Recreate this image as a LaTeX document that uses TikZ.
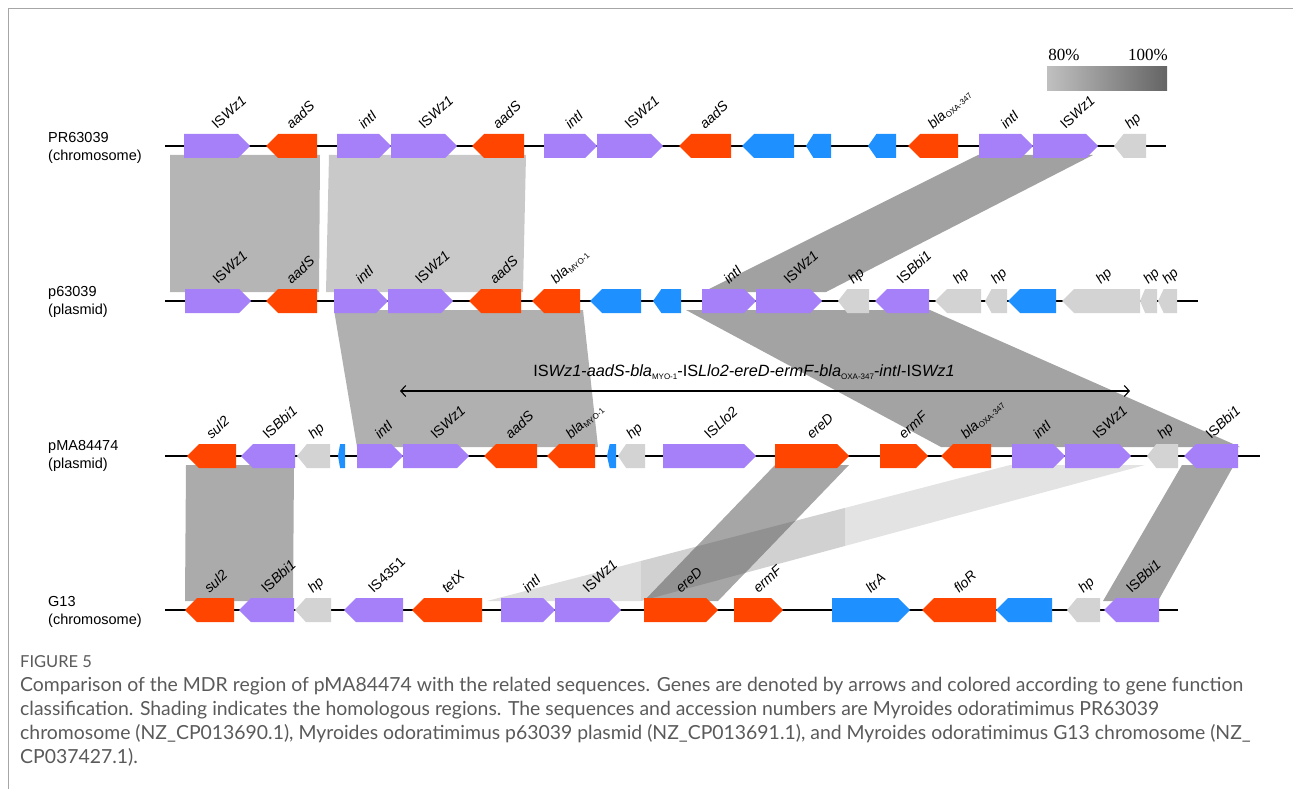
\documentclass[tikz,border=0pt]{standalone}
\usepackage{fontspec}
\setmainfont{Liberation Sans}
\newfontfamily\captionfont{Lato}
\newfontfamily\legendfont{Liberation Serif}
\usepackage{tikz}
\usetikzlibrary{arrows.meta}

\definecolor{ispurple}{HTML}{A680F8}
\definecolor{resred}{HTML}{FF4500}
\definecolor{othblue}{HTML}{1E90FF}
\definecolor{hpgray}{HTML}{D3D3D3}
\definecolor{captiongray}{HTML}{5A5A5A}
\definecolor{legendlow}{HTML}{C0C0C0}
\definecolor{legendhigh}{HTML}{646464}

\newcommand{\subt}[1]{\raisebox{-2.5pt}{\fontsize{8}{9}\selectfont #1}}
% gene arrow: row y, tail x, tip x, colour
\newcommand{\genearrow}[4]{%
  \pgfmathsetmacro{\hd}{min(12,0.3*abs(#3-#2))*sign(#3-#2)}%
  \fill[#4] ({#2},{#1-12}) -- ({#3-\hd},{#1-12}) -- ({#3},{#1}) -- ({#3-\hd},{#1+12}) -- ({#2},{#1+12}) -- cycle;}

\begin{document}
\begin{tikzpicture}[x=1pt,y=-1pt,
	backbone/.style={line width=1.6pt,black},
	genelabel/.style={anchor=base west,rotate=43,inner sep=0pt,font=\fontsize{14}{16}\selectfont},
	seqname/.style={anchor=west,align=left,inner sep=0pt,font=\fontsize{14.5}{18}\selectfont}]
	\useasboundingbox (0,0) rectangle (1293,789);
	\draw[black!35,line width=0.8pt] (8,789) -- (8,8) -- (1293,8);

	% homology shading
	\begin{scope}
	\fill[black!29] (170,155) -- (320,155) -- (319,292) -- (170,292) -- cycle;
	\fill[black!21] (329,155) -- (526,155) -- (523,292) -- (326,292) -- cycle;
	\fill[black!37] (978,155) -- (1093,155) -- (826,292) -- (703,292) -- cycle;
	\fill[black!31] (334,310) -- (583,310) -- (598,447) -- (357,447) -- cycle;
	\fill[black!36] (686,310) -- (930,310) -- (1240,447) -- (941,447) -- cycle;
	\fill[black!33] (186,465) -- (294,465) -- (293,601) -- (185,601) -- cycle;
	\begin{scope}
	\clip (400,440) rectangle (641,620);
	\fill[black!13] (1010,465) -- (1145,465) -- (641,601) -- (487,601) -- cycle;
	\end{scope}
	\begin{scope}
	\clip (641,440) rectangle (845,620);
	\fill[black!18] (1010,465) -- (1145,465) -- (641,601) -- (487,601) -- cycle;
	\end{scope}
	\begin{scope}
	\clip (845,440) rectangle (1200,620);
	\fill[black!11] (1010,465) -- (1145,465) -- (641,601) -- (487,601) -- cycle;
	\end{scope}
	\fill[black!35] (775,465) -- (849,465) -- (718,601) -- (644,601) -- cycle;
	\begin{scope}
	\clip (1010,465) -- (1145,465) -- (641,601) -- (487,601) -- cycle;
	\fill[black!43] (775,465) -- (849,465) -- (718,601) -- (644,601) -- cycle;
	\end{scope}
	\fill[black!36] (1182,465) -- (1234,465) -- (1158,601) -- (1103,601) -- cycle;
	\end{scope}

	% backbones
	\coordinate (r1a) at (165,146);
	\coordinate (r1b) at (1166,146);
	\coordinate (r2a) at (165,301);
	\coordinate (r2b) at (1198,301);
	\coordinate (r3a) at (165,456);
	\coordinate (r3b) at (1260,456);
	\coordinate (r4a) at (165,610);
	\coordinate (r4b) at (1178,610);
	\draw[backbone] (r1a) -- (r1b);
	\draw[backbone] (r2a) -- (r2b);
	\draw[backbone] (r3a) -- (r3b);
	\draw[backbone] (r4a) -- (r4b);

	\node[seqname] (seqPR) at (48,148) {PR63039\\(chromosome)};
	\node[seqname] (seqp6) at (48,302) {p63039\\(plasmid)};
	\node[seqname] (seqpMA) at (48,456) {pMA84474\\(plasmid)};
	\node[seqname] (seqG13) at (48,612) {G13\\(chromosome)};

	% PR63039
	\foreach \ta/\tb/\col/\lab [count=\i] in {
		184/250/ispurple/IS\textit{Wz1}, 317/266/resred/\textit{aadS},
		337/391/ispurple/\textit{intI}, 391/457/ispurple/IS\textit{Wz1},
		524/472/resred/\textit{aadS}, 544/597/ispurple/\textit{intI},
		597/663/ispurple/IS\textit{Wz1}, 731/679/resred/\textit{aadS},
		794/742/othblue/{}, 831/806/othblue/{}, 896/868/othblue/{},
		958/908/resred/\textit{bla}\subt{OXA-347},
		979/1033/ispurple/\textit{intI}, 1033/1098/ispurple/IS\textit{Wz1},
		1146/1114/hpgray/\textit{hp}}
	{\genearrow{146}{\ta}{\tb}{\col}
	\if\relax\detokenize\expandafter{\lab}\relax\else
	\node[genelabel] (r1g\i) at ({(\ta+\tb)/2},130) {\lab};\fi}

	% p63039
	\foreach \ta/\tb/\col/\lab [count=\i] in {
		185/251/ispurple/IS\textit{Wz1}, 317/266/resred/\textit{aadS},
		334/388/ispurple/\textit{intI}, 388/453/ispurple/IS\textit{Wz1},
		521/469/resred/\textit{aadS}, 580/532/resred/\textit{bla}\subt{MYO-1},
		641/590/othblue/{}, 681/653/othblue/{},
		702/756/ispurple/\textit{intI}, 756/822/ispurple/IS\textit{Wz1},
		869/838/hpgray/\textit{hp}, 929/875/ispurple/IS\textit{Bbi1},
		981/935/hpgray/\textit{hp}, 1007/985/hpgray/\textit{hp},
		1056/1008/othblue/{}, 1140/1062/hpgray/\textit{hp},
		1157/1140/hpgray/\textit{hp}, 1177/1158/hpgray/\textit{hp}}
	{\genearrow{301}{\ta}{\tb}{\col}
	\if\relax\detokenize\expandafter{\lab}\relax\else
	\node[genelabel] (r2g\i) at ({(\ta+\tb)/2},285) {\lab};\fi}

	% pMA84474
	\foreach \ta/\tb/\col/\lab [count=\i] in {
		236/187/resred/\textit{sul2}, 295/241/ispurple/IS\textit{Bbi1},
		330/297/hpgray/\textit{hp}, 345/338/othblue/{},
		357/403/ispurple/\textit{intI}, 403/469/ispurple/IS\textit{Wz1},
		537/484/resred/\textit{aadS}, 595/547/resred/\textit{bla}\subt{MYO-1},
		616/607/othblue/{}, 645/618/hpgray/\textit{hp},
		663/756/ispurple/IS\textit{Llo2}, 775/849/resred/\textit{ereD},
		880/928/resred/\textit{ermF}, 991/941/resred/\textit{bla}\subt{OXA-347},
		1012/1065/ispurple/\textit{intI}, 1065/1131/ispurple/IS\textit{Wz1},
		1178/1147/hpgray/\textit{hp}, 1238/1184/ispurple/IS\textit{Bbi1}}
	{\genearrow{456}{\ta}{\tb}{\col}
	\if\relax\detokenize\expandafter{\lab}\relax\else
	\node[genelabel] (r3g\i) at ({(\ta+\tb)/2},440) {\lab};\fi}

	% G13
	\foreach \ta/\tb/\col/\lab [count=\i] in {
		234/185/resred/\textit{sul2}, 294/239/ispurple/IS\textit{Bbi1},
		331/295/hpgray/\textit{hp}, 403/344/ispurple/IS4351,
		482/412/resred/\textit{tetX}, 501/555/ispurple/\textit{intI},
		555/621/ispurple/IS\textit{Wz1}, 644/718/resred/\textit{ereD},
		734/783/resred/\textit{ermF}, 832/910/othblue/\textit{ltrA},
		996/922/resred/\textit{floR}, 1052/996/othblue/{},
		1100/1067/hpgray/\textit{hp}, 1159/1104/ispurple/IS\textit{Bbi1}}
	{\genearrow{610}{\ta}{\tb}{\col}
	\if\relax\detokenize\expandafter{\lab}\relax\else
	\node[genelabel] (r4g\i) at ({(\ta+\tb)/2},594) {\lab};\fi}

	% MDR region
	\node[font=\fontsize{16.3}{19}\selectfont] (mdr) at (744,372)
		{IS\textit{Wz1}-\textit{aadS}-\textit{bla}\subt{MYO-1}-IS\textit{Llo2}-\textit{ereD}-\textit{ermF}-\textit{bla}\subt{OXA-347}-\textit{intI}-IS\textit{Wz1}};
	\coordinate (mdrl) at (400,391);
	\coordinate (mdrr) at (1130,391);
	\draw[{Straight Barb[length=5pt,width=11pt]}-{Straight Barb[length=5pt,width=11pt]},line width=1.1pt] (mdrl) -- (mdrr);

	% identity scale
	\shade[left color=legendlow,right color=legendhigh] (1047,67) rectangle (1167,91);
	\node[font=\legendfont\fontsize{17}{20}\selectfont] (low) at (1064,55) {80\%};
	\node[font=\legendfont\fontsize{17}{20}\selectfont] (high) at (1148,55) {100\%};

	% caption
	\begin{scope}[every node/.style={anchor=base west,inner sep=0pt,text=captiongray}]
	\node[font=\captionfont\fontsize{16.5}{18}\selectfont] (fig) at (20,667) {FIGURE 5};
	\node[font=\captionfont\fontsize{19.4}{24}\selectfont] (cap1) at (20,691) {Comparison of the MDR region of pMA84474 with the related sequences. Genes are denoted by arrows and colored according to gene function};
	\node[font=\captionfont\fontsize{19.4}{24}\selectfont] (cap2) at (20,715) {classification. Shading indicates the homologous regions. The sequences and accession numbers are Myroides odoratimimus PR63039};
	\node[font=\captionfont\fontsize{19.4}{24}\selectfont] (cap3) at (20,739) {chromosome (NZ\_CP013690.1), Myroides odoratimimus p63039 plasmid (NZ\_CP013691.1), and Myroides odoratimimus G13 chromosome (NZ\_};
	\node[font=\captionfont\fontsize{19.4}{24}\selectfont] (cap4) at (20,763) {CP037427.1).};
	\end{scope}
\end{tikzpicture}
\end{document}
